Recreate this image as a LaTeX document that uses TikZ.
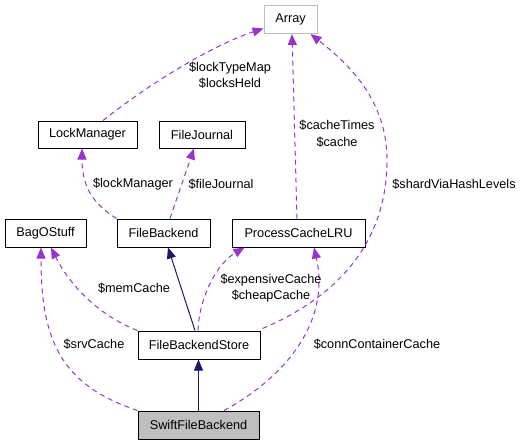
\documentclass[tikz,border=0pt]{standalone}
\usepackage{fontspec}
\setmainfont{Liberation Sans}
\usetikzlibrary{arrows.meta}
\definecolor{usecol}{HTML}{9A32CD}
\definecolor{inhcol}{HTML}{191970}
\definecolor{graybox}{HTML}{BFBFBF}
\tikzset{
  cls/.style={draw=black, line width=1pt, rectangle, inner sep=0pt, minimum height=28pt, font=\fontsize{12.7}{15}\selectfont},
  usage/.style={draw=usecol, line width=1pt, dash pattern=on 5pt off 4pt, -{Triangle[length=11pt,width=9pt,fill=usecol]}},
  inherit/.style={draw=inhcol, line width=1pt, -{Triangle[length=11pt,width=9pt,fill=inhcol]}},
  lbl/.style={font=\fontsize{12.7}{16.5}\selectfont, align=center, inner sep=0pt}
}
\begin{document}
\begin{tikzpicture}[x=1pt,y=-1pt]
\useasboundingbox (0,0) rectangle (532,445);
% nodes
\node[cls, draw=graybox, minimum width=53pt] (arr) at (290.5,19.5) {Array};
\node[cls, minimum width=99pt, minimum height=27pt] (lm) at (87.5,134.5) {LockManager};
\node[cls, minimum width=86pt, minimum height=27pt] (fj) at (202,134.5) {FileJournal};
\node[cls, minimum width=81pt] (bag) at (45.5,233) {BagOStuff};
\node[cls, minimum width=93pt] (fb) at (163.5,233) {FileBackend};
\node[cls, minimum width=133pt] (pc) at (298.5,233) {ProcessCacheLRU};
\node[cls, minimum width=122pt] (fbs) at (199,345) {FileBackendStore};
\node[cls, fill=graybox, minimum width=121pt] (sfb) at (198.5,425) {SwiftFileBackend};
% edges
\draw[usage] ([xshift=15.5pt]lm.north) .. controls +(40,-32) and +(-55,18) .. ([yshift=-9pt]arr.west);
\draw[usage] ([xshift=-1.5pt]pc.north) -- ([xshift=1.5pt]arr.south);
\draw[usage] ([xshift=2pt,yshift=2pt]fbs.north east) .. controls +(78,-33) and +(0,80) .. (387,160)
   .. controls +(0,-60) and +(38,30) .. ([xshift=-7pt]arr.south east);
\draw[usage] (fb.north west) .. controls +(-22,-14) and +(0,40) .. ([xshift=-5.5pt]lm.south);
\draw[usage] ([xshift=6.5pt]fb.north) -- ([xshift=-8pt]fj.south);
\draw[inherit] ([xshift=-4pt]fbs.north) -- ([xshift=4.5pt]fb.south);
\draw[usage] (fbs.north west) .. controls +(-34,-13) and +(21,42) .. ([xshift=5.5pt]bag.south);
\draw[usage] ([xshift=-1pt]fbs.north) .. controls +(1,-31) and +(-29,17) .. ([xshift=-54pt]pc.south);
\draw[inherit] (sfb.north) -- (sfb.north |- fbs.south);
\draw[usage] (sfb.north west) .. controls +(-78,-26) and +(0,91) .. ([xshift=-4.5pt]bag.south);
\draw[usage] ([xshift=25.5pt]sfb.north) .. controls +(66,-36) and +(16,71) .. ([xshift=15.5pt]pc.south);
% labels
\node[lbl] (l1) at (230,75) {\$lockTypeMap\\\$locksHeld};
\node[lbl] (l2) at (337,133.5) {\$cacheTimes\\\$cache};
\node[lbl] (l3) at (454,184) {\$shardViaHashLevels};
\node[lbl] (l4) at (133,184) {\$lockManager};
\node[lbl] (l5) at (221,184) {\$fileJournal};
\node[lbl] (l6) at (134,288) {\$memCache};
\node[lbl] (l7) at (271,288) {\$expensiveCache\\\$cheapCache};
\node[lbl] (l8) at (94,344) {\$srvCache};
\node[lbl] (l9) at (377,344) {\$connContainerCache};
\end{tikzpicture}
\end{document}
